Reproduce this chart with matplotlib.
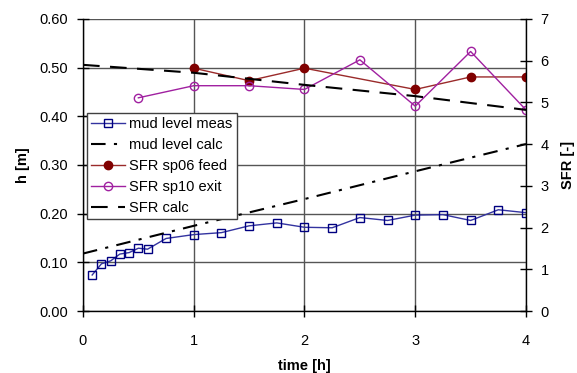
import matplotlib
matplotlib.use("Agg")
import matplotlib.pyplot as plt

plt.rcParams['font.family'] = ['Liberation Sans', 'DejaVu Sans']

# mud level measured (left axis)
t_meas = [0.083, 0.167, 0.25, 0.333, 0.417, 0.5, 0.583, 0.75, 1.0, 1.25, 1.5, 1.75,
          2.0, 2.25, 2.5, 2.75, 3.0, 3.25, 3.5, 3.75, 4.0]
h_meas = [0.074, 0.097, 0.103, 0.117, 0.120, 0.129, 0.127, 0.149, 0.157, 0.161, 0.175, 0.181,
          0.172, 0.171, 0.192, 0.186, 0.197, 0.198, 0.186, 0.208, 0.202]

# mud level calc (left axis)
t_calc = [0, 1, 2, 3, 4]
h_calc = [0.118, 0.175, 0.230, 0.287, 0.343]

# SFR sp06 feed (right axis)
t_feed = [1.0, 1.5, 2.0, 3.0, 3.5, 4.0]
sfr_feed = [5.82, 5.52, 5.82, 5.31, 5.61, 5.61]

# SFR sp10 exit (right axis)
t_exit = [0.5, 1.0, 1.5, 2.0, 2.5, 3.0, 3.5, 4.0]
sfr_exit = [5.11, 5.40, 5.40, 5.31, 6.02, 4.91, 6.22, 4.82]

# SFR calc (right axis)
t_sfrc = [0, 1, 2, 3, 4]
sfr_calc = [5.90, 5.71, 5.42, 5.15, 4.82]

fig = plt.figure(figsize=(5.77, 3.73), dpi=100)
ax = fig.add_axes([0.1438, 0.1662, 0.7678, 0.783])
ax2 = ax.twinx()

ax.set_xlim(0, 4)
ax.set_ylim(0, 0.6)
ax2.set_ylim(0, 7)
ax.set_xticks([0, 1, 2, 3, 4])
ax.set_yticks([0, 0.1, 0.2, 0.3, 0.4, 0.5, 0.6])
ax.set_yticklabels([f"{v:.2f}" for v in [0, 0.1, 0.2, 0.3, 0.4, 0.5, 0.6]])
ax2.set_yticks(range(0, 8))

ax.grid(True, color='#555555', linewidth=1.0)
ax.set_axisbelow(True)

for a in (ax, ax2):
    a.spines['top'].set_visible(False)
    a.tick_params(direction='inout', length=9, width=1, labelsize=10.5,
                  colors='black', pad=6)
ax.tick_params(axis='x', pad=12)
ax.spines['left'].set_linewidth(1)
ax.spines['bottom'].set_linewidth(1)
ax2.spines['right'].set_linewidth(1)
ax2.spines['left'].set_visible(False)
ax2.spines['bottom'].set_visible(False)
ax.spines['right'].set_visible(False)

l1, = ax.plot(t_meas, h_meas, color='#3333a0', lw=1, marker='s', ms=5.5,
              mfc='none', mec='#000080', mew=1, label='mud level meas')
l2, = ax.plot(t_calc, h_calc, color='black', lw=1.5, dashes=(7, 4, 1.5, 4),
              label='mud level calc')
l3, = ax2.plot(t_feed, sfr_feed, color='#9a2a2a', lw=1, marker='o', ms=6,
               mfc='#800000', mec='#800000', label='SFR sp06 feed')
l4, = ax2.plot(t_exit, sfr_exit, color='#a020a0', lw=1, marker='o', ms=6,
               mfc='none', mec='#a020a0', mew=1, label='SFR sp10 exit')
l5, = ax2.plot(t_sfrc, sfr_calc, color='black', lw=1.5, dashes=(8, 5),
               label='SFR calc')

ax.set_xlabel('time [h]', fontsize=10.5, fontweight='bold', labelpad=8)
ax.set_ylabel('h [m]', fontsize=10.5, fontweight='bold', labelpad=7)
ax2.set_ylabel('SFR [-]', fontsize=10.5, fontweight='bold', labelpad=9)

leg = ax2.legend(handles=[l1, l2, l3, l4, l5], loc='upper left',
                 bbox_to_anchor=(0.009, 0.679), fontsize=10.5, frameon=True,
                 fancybox=False, edgecolor='#404040', framealpha=1,
                 handlelength=2.3, handletextpad=0.3, borderpad=0.3,
                 labelspacing=0.48, borderaxespad=0)
leg.get_frame().set_linewidth(1)

fig.savefig('out.png', dpi=100)
